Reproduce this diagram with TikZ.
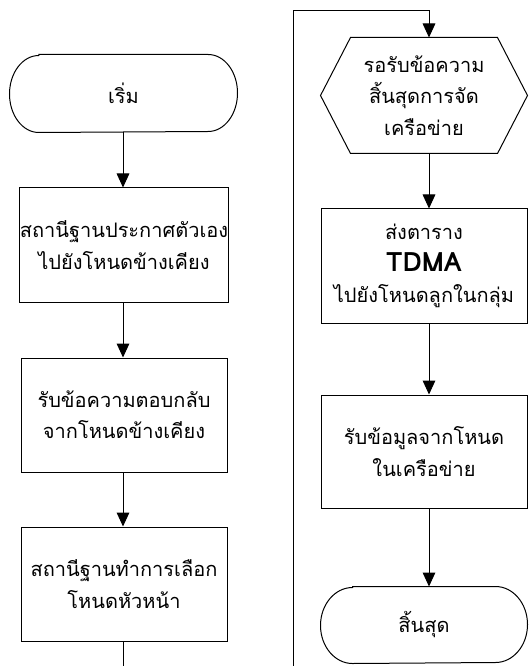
\documentclass[tikz,border=0pt]{standalone}
\usepackage{fontspec}
\setmainfont{Liberation Sans}
\newfontfamily\thaifont[Script=Thai]{Loma}
\usetikzlibrary{arrows.meta,calc}
\begin{document}
\begin{tikzpicture}[x=0.75pt,y=-0.75pt,
  line width=0.75pt,
  txt/.style={align=center,font=\thaifont\fontsize{15}{23.5}\selectfont,inner sep=0pt},
  procbox/.style={txt,draw,minimum width=154.5pt,minimum height=85.5pt},
  shapebox/.style={txt,minimum width=154.5pt,minimum height=85.5pt},
  arr/.style={-{Triangle[length=10.5pt,width=9.5pt]}},
  plain/.style={-}
]
\useasboundingbox (0,0) rectangle (528,666);

% ---------- left column ----------
\node[shapebox,minimum width=170.25pt,minimum height=57.75pt] (start) at (123.5,93.5) {เริ่ม};
\draw ([xshift=22pt]start.north west) -- ([xshift=-22pt]start.north east)
  arc[start angle=90,end angle=-90,x radius=22pt,y radius=28.875pt]
  -- ([xshift=22pt]start.south west)
  arc[start angle=270,end angle=90,x radius=22pt,y radius=28.875pt] -- cycle;

\node[procbox] (b1) at (124,245) {สถานีฐานประกาศตัวเอง\\ไปยังโหนดข้างเคียง};
\node[procbox] (b2) at (124,415) {รับข้อความตอบกลับ\\จากโหนดข้างเคียง};
\node[procbox] (b3) at (124,584) {สถานีฐานทำการเลือก\\โหนดหัวหน้า};
\coordinate (lend) at (124,666);
\coordinate (colL) at (123,0);

\draw[arr] (start.south -| colL) -- (b1.north -| colL);
\draw[arr] (b1.south -| colL) -- (b2.north -| colL);
\draw[arr] (b2.south -| colL) -- (b3.north -| colL);
\draw[plain] (b3.south -| colL) -- (lend -| colL);

% ---------- right column ----------
\coordinate (colR) at (429,0);
\coordinate (rbot) at (293,666);
\coordinate (rtop) at (293,11);

\node[shapebox,minimum height=86.25pt] (hex) at (424,95.5) {รอรับข้อความ\\สิ้นสุดการจัด\\เครือข่าย};
\draw (hex.west) -- ([xshift=22.5pt]hex.north west) -- ([xshift=-22.5pt]hex.north east)
  -- (hex.east) -- ([xshift=-22.5pt]hex.south east) -- ([xshift=22.5pt]hex.south west) -- cycle;

\node[procbox] (b4) at (424,266) {ส่งตาราง\\{\fontsize{20}{23.5}\selectfont\bfseries TDMA}\\ไปยังโหนดลูกในกลุ่ม};
\node[procbox,minimum height=84.75pt] (b5) at (424,451.5) {รับข้อมูลจากโหนด\\ในเครือข่าย};

\node[shapebox,minimum height=57pt] (stop) at (424,625) {สิ้นสุด};
\draw ([xshift=24pt]stop.north west) -- ([xshift=-24pt]stop.north east)
  arc[start angle=90,end angle=-90,x radius=24pt,y radius=28.5pt]
  -- ([xshift=24pt]stop.south west)
  arc[start angle=270,end angle=90,x radius=24pt,y radius=28.5pt] -- cycle;

\draw[arr] (rbot) -- (rtop) -- (rtop -| colR) -- (hex.north -| colR);
\draw[arr] (hex.south -| colR) -- (b4.north -| colR);
\draw[arr] (b4.south -| colR) -- (b5.north -| colR);
\draw[arr] (b5.south -| colR) -- (stop.north -| colR);
\end{tikzpicture}
\end{document}
